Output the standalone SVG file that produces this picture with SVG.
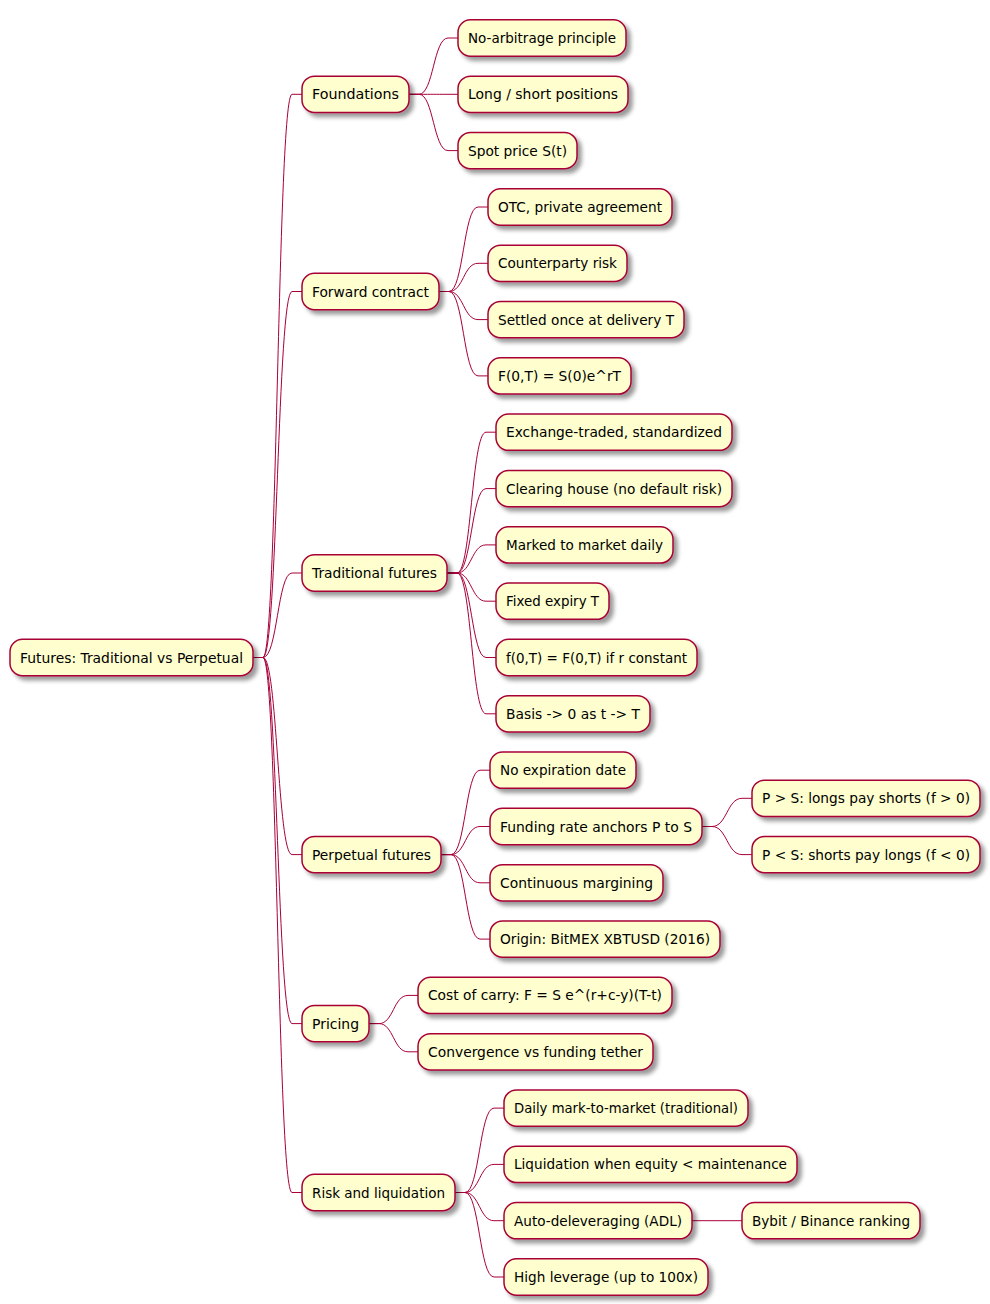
<svg xmlns="http://www.w3.org/2000/svg" width="990" height="1304" viewBox="0 0 990 1304">
<style>
.n rect{fill:#FEFECE;stroke:#A80036;stroke-width:1.5;filter:url(#sh)}
.n text{font-family:"DejaVu Sans",Verdana,sans-serif;font-size:14px;fill:#000}
#links path{fill:none;stroke:#A80036;stroke-width:1}
</style>
<defs>
<filter id="sh" x="-1" y="-1" width="300%" height="300%">
<feGaussianBlur in="SourceAlpha" result="b" stdDeviation="2"/>
<feColorMatrix in="b" result="b2" type="matrix" values="0 0 0 0 0 0 0 0 0 0 0 0 0 0 0 0 0 0 .4 0"/>
<feOffset dx="4" dy="4" in="b2" result="b3"/>
<feBlend in="SourceGraphic" in2="b3" mode="normal"/>
</filter>
</defs>
<g id="links">
<path d="M253,657.5 H263 C277.5,657.5 277.5,94.3 292,94.3 H302"/>
<path d="M253,657.5 H263 C277.5,657.5 277.5,291.5 292,291.5 H302"/>
<path d="M253,657.5 H263 C277.5,657.5 277.5,573 292,573 H302"/>
<path d="M253,657.5 H263 C277.5,657.5 277.5,854.6 292,854.6 H302"/>
<path d="M253,657.5 H263 C277.5,657.5 277.5,1023.6 292,1023.6 H302"/>
<path d="M253,657.5 H263 C277.5,657.5 277.5,1192.5 292,1192.5 H302"/>
<path d="M409,94.3 H419 C433.5,94.3 433.5,38 448,38 H458"/>
<path d="M409,94.3 H419 C433.5,94.3 433.5,94.3 448,94.3 H458"/>
<path d="M409,94.3 H419 C433.5,94.3 433.5,150.6 448,150.6 H458"/>
<path d="M439,291.5 H449 C463.5,291.5 463.5,207 478,207 H488"/>
<path d="M439,291.5 H449 C463.5,291.5 463.5,263.3 478,263.3 H488"/>
<path d="M439,291.5 H449 C463.5,291.5 463.5,319.6 478,319.6 H488"/>
<path d="M439,291.5 H449 C463.5,291.5 463.5,375.9 478,375.9 H488"/>
<path d="M447,573 H457 C471.5,573 471.5,432.2 486,432.2 H496"/>
<path d="M447,573 H457 C471.5,573 471.5,488.6 486,488.6 H496"/>
<path d="M447,573 H457 C471.5,573 471.5,544.9 486,544.9 H496"/>
<path d="M447,573 H457 C471.5,573 471.5,601.2 486,601.2 H496"/>
<path d="M447,573 H457 C471.5,573 471.5,657.5 486,657.5 H496"/>
<path d="M447,573 H457 C471.5,573 471.5,713.8 486,713.8 H496"/>
<path d="M441,854.6 H451 C465.5,854.6 465.5,770.2 480,770.2 H490"/>
<path d="M441,854.6 H451 C465.5,854.6 465.5,826.5 480,826.5 H490"/>
<path d="M441,854.6 H451 C465.5,854.6 465.5,882.8 480,882.8 H490"/>
<path d="M441,854.6 H451 C465.5,854.6 465.5,939.1 480,939.1 H490"/>
<path d="M702,826.5 H712 C727,826.5 727,798.3 742,798.3 H752"/>
<path d="M702,826.5 H712 C727,826.5 727,854.6 742,854.6 H752"/>
<path d="M369,1023.6 H379 C393.5,1023.6 393.5,995.4 408,995.4 H418"/>
<path d="M369,1023.6 H379 C393.5,1023.6 393.5,1051.8 408,1051.8 H418"/>
<path d="M455,1192.5 H465 C479.5,1192.5 479.5,1108.1 494,1108.1 H504"/>
<path d="M455,1192.5 H465 C479.5,1192.5 479.5,1164.4 494,1164.4 H504"/>
<path d="M455,1192.5 H465 C479.5,1192.5 479.5,1220.7 494,1220.7 H504"/>
<path d="M455,1192.5 H465 C479.5,1192.5 479.5,1277 494,1277 H504"/>
<path d="M692,1220.7 H742"/>
</g>
<g id="root" class="n"><rect x="10" y="639.35" width="243" height="36.3" rx="12.5"/><text x="20" y="662.5" textLength="223" lengthAdjust="spacingAndGlyphs">Futures: Traditional vs Perpetual</text></g>
<g id="foundations" class="n"><rect x="302" y="76.15" width="107" height="36.3" rx="12.5"/><text x="312" y="99.3" textLength="87" lengthAdjust="spacingAndGlyphs">Foundations</text></g>
<g id="no-arbitrage" class="n"><rect x="458" y="19.85" width="168" height="36.3" rx="12.5"/><text x="468" y="43" textLength="148" lengthAdjust="spacingAndGlyphs">No-arbitrage principle</text></g>
<g id="long-short" class="n"><rect x="458" y="76.15" width="170" height="36.3" rx="12.5"/><text x="468" y="99.3" textLength="150" lengthAdjust="spacingAndGlyphs">Long / short positions</text></g>
<g id="spot" class="n"><rect x="458" y="132.45" width="119" height="36.3" rx="12.5"/><text x="468" y="155.6" textLength="99" lengthAdjust="spacingAndGlyphs">Spot price S(t)</text></g>
<g id="forward" class="n"><rect x="302" y="273.35" width="137" height="36.3" rx="12.5"/><text x="312" y="296.5" textLength="117" lengthAdjust="spacingAndGlyphs">Forward contract</text></g>
<g id="otc" class="n"><rect x="488" y="188.85" width="184" height="36.3" rx="12.5"/><text x="498" y="212" textLength="164" lengthAdjust="spacingAndGlyphs">OTC, private agreement</text></g>
<g id="counterparty" class="n"><rect x="488" y="245.15" width="139" height="36.3" rx="12.5"/><text x="498" y="268.3" textLength="119" lengthAdjust="spacingAndGlyphs">Counterparty risk</text></g>
<g id="settled" class="n"><rect x="488" y="301.45" width="196" height="36.3" rx="12.5"/><text x="498" y="324.6" textLength="176" lengthAdjust="spacingAndGlyphs">Settled once at delivery T</text></g>
<g id="fwd-price" class="n"><rect x="488" y="357.75" width="143" height="36.3" rx="12.5"/><text x="498" y="380.9" textLength="123" lengthAdjust="spacingAndGlyphs">F(0,T) = S(0)e^rT</text></g>
<g id="traditional" class="n"><rect x="302" y="554.85" width="145" height="36.3" rx="12.5"/><text x="312" y="578" textLength="125" lengthAdjust="spacingAndGlyphs">Traditional futures</text></g>
<g id="exchange" class="n"><rect x="496" y="414.05" width="236" height="36.3" rx="12.5"/><text x="506" y="437.2" textLength="216" lengthAdjust="spacingAndGlyphs">Exchange-traded, standardized</text></g>
<g id="clearing" class="n"><rect x="496" y="470.45" width="236" height="36.3" rx="12.5"/><text x="506" y="493.6" textLength="216" lengthAdjust="spacingAndGlyphs">Clearing house (no default risk)</text></g>
<g id="marked" class="n"><rect x="496" y="526.75" width="177" height="36.3" rx="12.5"/><text x="506" y="549.9" textLength="157" lengthAdjust="spacingAndGlyphs">Marked to market daily</text></g>
<g id="fixed" class="n"><rect x="496" y="583.05" width="113" height="36.3" rx="12.5"/><text x="506" y="606.2" textLength="93" lengthAdjust="spacingAndGlyphs">Fixed expiry T</text></g>
<g id="fut-price" class="n"><rect x="496" y="639.35" width="201" height="36.3" rx="12.5"/><text x="506" y="662.5" textLength="181" lengthAdjust="spacingAndGlyphs">f(0,T) = F(0,T) if r constant</text></g>
<g id="basis" class="n"><rect x="496" y="695.65" width="154" height="36.3" rx="12.5"/><text x="506" y="718.8" textLength="134" lengthAdjust="spacingAndGlyphs">Basis -&gt; 0 as t -&gt; T</text></g>
<g id="perpetual" class="n"><rect x="302" y="836.45" width="139" height="36.3" rx="12.5"/><text x="312" y="859.6" textLength="119" lengthAdjust="spacingAndGlyphs">Perpetual futures</text></g>
<g id="no-expiry" class="n"><rect x="490" y="752.05" width="146" height="36.3" rx="12.5"/><text x="500" y="775.2" textLength="126" lengthAdjust="spacingAndGlyphs">No expiration date</text></g>
<g id="funding" class="n"><rect x="490" y="808.35" width="212" height="36.3" rx="12.5"/><text x="500" y="831.5" textLength="192" lengthAdjust="spacingAndGlyphs">Funding rate anchors P to S</text></g>
<g id="p-gt-s" class="n"><rect x="752" y="780.15" width="228" height="36.3" rx="12.5"/><text x="762" y="803.3" textLength="208" lengthAdjust="spacingAndGlyphs">P &gt; S: longs pay shorts (f &gt; 0)</text></g>
<g id="p-lt-s" class="n"><rect x="752" y="836.45" width="228" height="36.3" rx="12.5"/><text x="762" y="859.6" textLength="208" lengthAdjust="spacingAndGlyphs">P &lt; S: shorts pay longs (f &lt; 0)</text></g>
<g id="continuous" class="n"><rect x="490" y="864.65" width="173" height="36.3" rx="12.5"/><text x="500" y="887.8" textLength="153" lengthAdjust="spacingAndGlyphs">Continuous margining</text></g>
<g id="origin" class="n"><rect x="490" y="920.95" width="230" height="36.3" rx="12.5"/><text x="500" y="944.1" textLength="210" lengthAdjust="spacingAndGlyphs">Origin: BitMEX XBTUSD (2016)</text></g>
<g id="pricing" class="n"><rect x="302" y="1005.45" width="67" height="36.3" rx="12.5"/><text x="312" y="1028.6" textLength="47" lengthAdjust="spacingAndGlyphs">Pricing</text></g>
<g id="carry" class="n"><rect x="418" y="977.25" width="254" height="36.3" rx="12.5"/><text x="428" y="1000.4" textLength="234" lengthAdjust="spacingAndGlyphs">Cost of carry: F = S e^(r+c-y)(T-t)</text></g>
<g id="convergence" class="n"><rect x="418" y="1033.65" width="235" height="36.3" rx="12.5"/><text x="428" y="1056.8" textLength="215" lengthAdjust="spacingAndGlyphs">Convergence vs funding tether</text></g>
<g id="risk" class="n"><rect x="302" y="1174.35" width="153" height="36.3" rx="12.5"/><text x="312" y="1197.5" textLength="133" lengthAdjust="spacingAndGlyphs">Risk and liquidation</text></g>
<g id="daily" class="n"><rect x="504" y="1089.95" width="244" height="36.3" rx="12.5"/><text x="514" y="1113.1" textLength="224" lengthAdjust="spacingAndGlyphs">Daily mark-to-market (traditional)</text></g>
<g id="liquidation" class="n"><rect x="504" y="1146.25" width="293" height="36.3" rx="12.5"/><text x="514" y="1169.4" textLength="273" lengthAdjust="spacingAndGlyphs">Liquidation when equity &lt; maintenance</text></g>
<g id="adl" class="n"><rect x="504" y="1202.55" width="188" height="36.3" rx="12.5"/><text x="514" y="1225.7" textLength="168" lengthAdjust="spacingAndGlyphs">Auto-deleveraging (ADL)</text></g>
<g id="bybit" class="n"><rect x="742" y="1202.55" width="178" height="36.3" rx="12.5"/><text x="752" y="1225.7" textLength="158" lengthAdjust="spacingAndGlyphs">Bybit / Binance ranking</text></g>
<g id="leverage" class="n"><rect x="504" y="1258.85" width="204" height="36.3" rx="12.5"/><text x="514" y="1282" textLength="184" lengthAdjust="spacingAndGlyphs">High leverage (up to 100x)</text></g>
</svg>
